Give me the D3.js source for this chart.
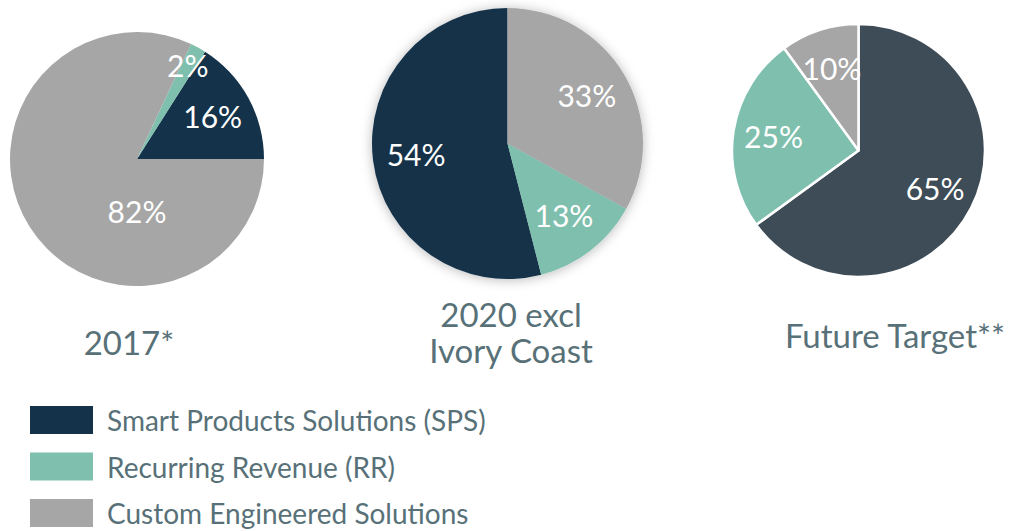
<!DOCTYPE html>
<html>
<head>
<meta charset="utf-8">
<script src="https://cdn.jsdelivr.net/npm/d3@7"></script>
<style>
  body { margin: 0; background: #fff; }
  text { font-family: Lato, "Open Sans", sans-serif; }
</style>
</head>
<body>
<div class="holder"></div>
<script>
const w = 1015;
const h = 531;

// data
const categories = ['Smart Products Solutions (SPS)', 'Recurring Revenue (RR)', 'Custom Engineered Solutions'];
const pieTitles = [['2017*'], ['2020 excl', 'Ivory Coast'], ['Future Target**']];
const values2017 = [16, 2, 82];
const values2020 = [54, 13, 33];
const valuesTarget = [65, 25, 10];

const colors = ['#14324a', '#7fbfae', '#a6a6a6'];
const textColor = '#587178';

// layout for each pie (center, radius, start/end angle, look)
const pies = [
  { values: values2017, cx: 137, cy: 159, r: 127, a0: Math.PI / 2, a1: Math.PI / 2 - 2 * Math.PI,
    titleX: 129, titleY: 355, colors: colors, stroke: 0, shadow: false },
  { values: values2020, cx: 507.5, cy: 143.5, r: 135.5, a0: 2 * Math.PI, a1: 0,
    titleX: 511, titleY: 327, colors: colors, stroke: 0, shadow: true },
  { values: valuesTarget, cx: 858.5, cy: 150.5, r: 126.5, a0: 0, a1: 2 * Math.PI,
    titleX: 895, titleY: 348, colors: ['#3e4c57', '#7fbfae', '#a6a6a6'], stroke: 2.5, shadow: false }
];

var svg = d3.select('.holder')
  .append('svg')
  .attr('width', w)
  .attr('height', h);

var defs = svg.append('defs');
defs.append('filter')
  .attr('id', 'glow')
  .attr('x', '-20%').attr('y', '-20%')
  .attr('width', '140%').attr('height', '140%')
  .append('feDropShadow')
  .attr('dx', 0)
  .attr('dy', 1)
  .attr('stdDeviation', 6)
  .attr('flood-color', '#000')
  .attr('flood-opacity', 0.28);

pies.forEach(function (p, pi) {
  const pie = d3.pie()
    .sort(null)
    .startAngle(p.a0)
    .endAngle(p.a1);

  const arcs = pie(p.values);

  const arc = d3.arc().innerRadius(0).outerRadius(p.r);
  const labelArc = d3.arc().innerRadius(p.r * 0.68).outerRadius(p.r * 0.68);

  const g = svg.append('g')
    .attr('transform', 'translate(' + p.cx + ',' + p.cy + ')');

  const slices = g.append('g');
  if (p.shadow) slices.attr('filter', 'url(#glow)');

  slices.selectAll('path')
    .data(arcs)
    .enter()
    .append('path')
    .attr('d', arc)
    .style('fill', (d, i) => p.colors[i])
    .style('stroke', p.stroke ? '#fff' : 'none')
    .style('stroke-width', p.stroke)
    .style('stroke-linejoin', 'round');

  g.selectAll('text.lbl')
    .data(arcs)
    .enter()
    .append('text')
    .attr('class', 'lbl')
    .attr('transform', function (d) {
      const span = Math.abs(d.endAngle - d.startAngle);
      // a slice that covers most of the pie gets its label straight below the middle
      if (span > 1.5 * Math.PI) {
        return 'translate(0,' + (p.r * 0.42) + ')';
      }
      // very thin slices push the label further out
      if (span < 0.1 * Math.PI) {
        const far = d3.arc().innerRadius(p.r * 0.83).outerRadius(p.r * 0.83);
        return 'translate(' + far.centroid(d) + ')';
      }
      return 'translate(' + labelArc.centroid(d) + ')';
    })
    .attr('text-anchor', 'middle')
    .attr('dy', '0.36em')
    .style('fill', '#fff')
    .style('font-size', '30px')
    .text(d => d.data + '%');

  svg.append('text')
    .attr('x', p.titleX)
    .attr('y', p.titleY)
    .attr('text-anchor', 'middle')
    .style('fill', textColor)
    .style('font-size', '33px')
    .selectAll('tspan')
    .data(pieTitles[pi])
    .enter()
    .append('tspan')
    .attr('x', p.titleX)
    .attr('dy', (d, i) => i === 0 ? 0 : 36)
    .text(d => d);
});

// legend
const legend = svg.append('g')
  .selectAll('g')
  .data(categories)
  .enter()
  .append('g')
  .attr('transform', (d, i) => 'translate(30,' + (406 + i * 46.5) + ')');

legend.append('rect')
  .attr('width', 63)
  .attr('height', 28)
  .style('fill', (d, i) => colors[i]);

legend.append('text')
  .attr('x', 77)
  .attr('y', 25)
  .style('fill', textColor)
  .style('font-size', '28px')
  .text(d => d);
</script>
</body>
</html>
